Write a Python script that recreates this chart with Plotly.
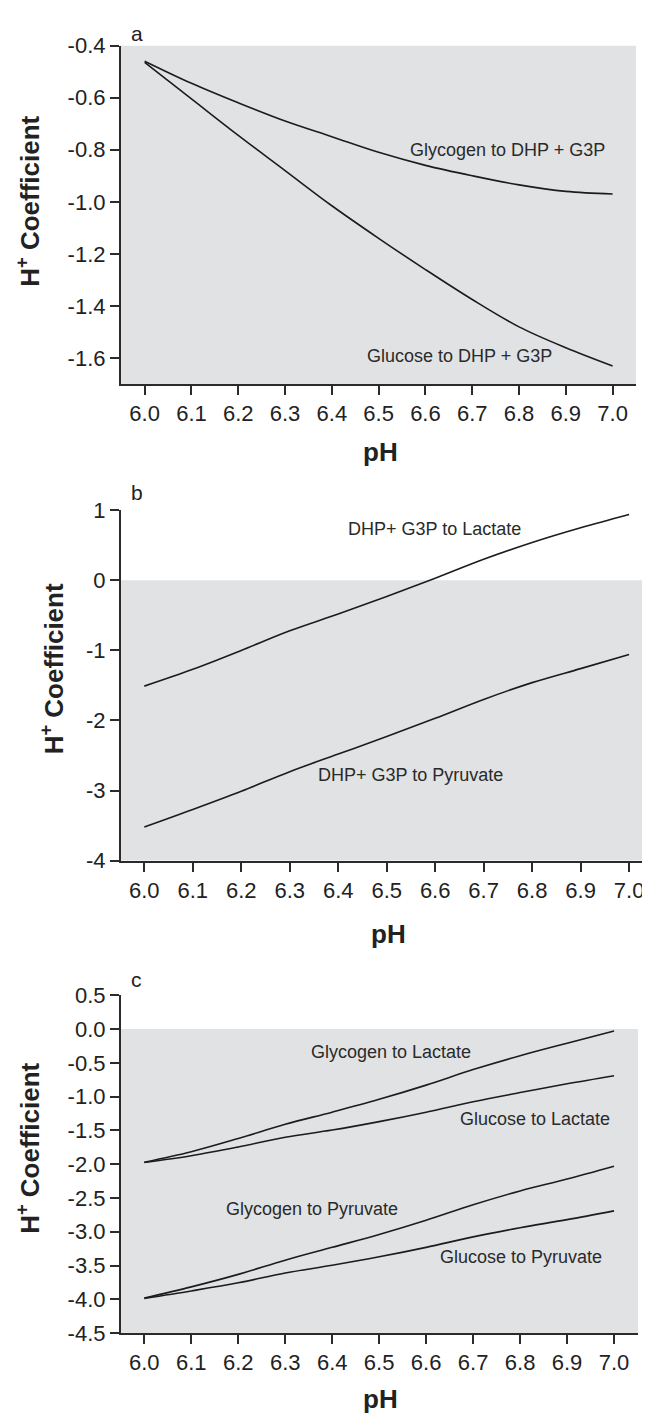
import plotly.graph_objects as go

# ---------------- data ----------------
ph = [6.0, 6.1, 6.2, 6.3, 6.4, 6.5, 6.6, 6.7, 6.8, 6.9, 7.0]

# panel a
glycogen_to_dhp_g3p = [-0.46, -0.545, -0.62, -0.69, -0.75, -0.81, -0.86, -0.90, -0.935, -0.96, -0.97]
glucose_to_dhp_g3p = [-0.465, -0.605, -0.745, -0.88, -1.015, -1.14, -1.26, -1.375, -1.48, -1.56, -1.63]

# panel b
dhp_g3p_to_lactate = [-1.51, -1.27, -1.00, -0.72, -0.48, -0.23, 0.03, 0.30, 0.54, 0.75, 0.94]
dhp_g3p_to_pyruvate = [-3.52, -3.27, -3.01, -2.73, -2.48, -2.23, -1.97, -1.70, -1.46, -1.26, -1.06]

# panel c
glycogen_to_lactate = [-1.97, -1.815, -1.62, -1.41, -1.23, -1.04, -0.83, -0.60, -0.395, -0.21, -0.03]
glucose_to_lactate = [-1.975, -1.875, -1.745, -1.60, -1.495, -1.37, -1.23, -1.075, -0.94, -0.81, -0.69]
glycogen_to_pyruvate = [-3.98, -3.815, -3.63, -3.42, -3.23, -3.04, -2.83, -2.60, -2.395, -2.22, -2.03]
glucose_to_pyruvate = [-3.985, -3.875, -3.755, -3.61, -3.495, -3.37, -3.23, -3.075, -2.94, -2.82, -2.69]

x_ticks = [6.0, 6.1, 6.2, 6.3, 6.4, 6.5, 6.6, 6.7, 6.8, 6.9, 7.0]
a_ticks = [-0.4, -0.6, -0.8, -1.0, -1.2, -1.4, -1.6]
b_ticks = [1, 0, -1, -2, -3, -4]
c_ticks = [0.5, 0.0, -0.5, -1.0, -1.5, -2.0, -2.5, -3.0, -3.5, -4.0, -4.5]

panel_letters = ["a", "b", "c"]
x_title = "pH"
y_title = "H<sup>+</sup> Coefficient"

# ---------------- styling ----------------
W, H = 650, 1421
FONT = "Liberation Sans, Arial, sans-serif"
LINE_COLOR = "#1c1c1c"
AXIS_COLOR = "#2b2b2b"
GRAY = "#e1e2e4"
TEXT = "#222222"


def px_x(p):
    return p / W


def px_y(p):
    return 1 - p / H


fig = go.Figure()

series = [
    (glycogen_to_dhp_g3p, "x", "y"),
    (glucose_to_dhp_g3p, "x", "y"),
    (dhp_g3p_to_lactate, "x2", "y2"),
    (dhp_g3p_to_pyruvate, "x2", "y2"),
    (glycogen_to_lactate, "x3", "y3"),
    (glucose_to_lactate, "x3", "y3"),
    (glycogen_to_pyruvate, "x3", "y3"),
    (glucose_to_pyruvate, "x3", "y3"),
]
for ys, xa, ya in series:
    fig.add_trace(go.Scatter(
        x=ph, y=ys, mode="lines", xaxis=xa, yaxis=ya, showlegend=False,
        line=dict(color=LINE_COLOR, width=1.6, shape="spline"),
        hoverinfo="skip",
    ))

common_axis = dict(
    showline=True, linecolor=AXIS_COLOR, linewidth=1.8,
    ticks="outside", ticklen=9, tickwidth=1.5, tickcolor=AXIS_COLOR,
    showgrid=False, zeroline=False, mirror=False,
    tickfont=dict(family=FONT, size=22, color=TEXT),
)


def xaxis(domain, rng, anchor):
    return dict(common_axis, domain=domain, range=rng, anchor=anchor,
                tickmode="array", tickvals=x_ticks,
                ticktext=[f"{v:.1f}" for v in x_ticks])


def yaxis(domain, rng, anchor, ticks, fmt):
    return dict(common_axis, domain=domain, range=rng, anchor=anchor,
                tickmode="array", tickvals=ticks,
                ticktext=[fmt.format(v) for v in ticks])


ranges = {
    "a": ([5.949, 7.050], [-1.7, -0.4]),
    "b": ([5.9515, 7.0555], [-4.0, 1.0]),
    "c": ([5.95, 7.051], [-4.5, 0.5]),
}

fig.update_layout(
    width=W, height=H,
    margin=dict(l=0, r=0, t=0, b=0),
    paper_bgcolor="white", plot_bgcolor="white",
    font=dict(family=FONT, color=TEXT, size=16),
    xaxis=xaxis([px_x(112.8), px_x(628)], ranges["a"][0], "y"),
    yaxis=yaxis([px_y(370.7), px_y(26)], ranges["a"][1], "x", a_ticks, "{:.1f}"),
    xaxis2=xaxis([px_x(112.8), px_x(648)], ranges["b"][0], "y2"),
    yaxis2=yaxis([px_y(855.7), px_y(499)], ranges["b"][1], "x2", b_ticks, "{:d}"),
    xaxis3=xaxis([px_x(112.8), px_x(630)], ranges["c"][0], "y3"),
    yaxis3=yaxis([px_y(1336.7), px_y(992.7)], ranges["c"][1], "x3", c_ticks, "{:.1f}"),
)

# gray background below zero
for key, xr, yr in [("a", "x", "y"), ("b", "x2", "y2"), ("c", "x3", "y3")]:
    y0, y1 = ranges[key][1]
    fig.add_shape(type="rect", xref=f"{xr} domain", yref=yr,
                  x0=0, x1=1, y0=y0, y1=min(0, y1),
                  fillcolor=GRAY, line=dict(width=0), layer="below")

annotations = []
# panel letters (top-anchored so none is cut at the edge)
for letter, (lx, ly) in zip(panel_letters, [(128.5, 0), (128.5, 467), (128.5, 963)]):
    annotations.append(dict(text=letter, x=px_x(lx), y=px_y(ly), xref="paper", yref="paper",
                            showarrow=False, xanchor="center", yanchor="top",
                            font=dict(family=FONT, size=21, color=TEXT)))
# x titles
for (tx, ty) in [(372, 440), (380, 930), (372, 1404)]:
    annotations.append(dict(text=x_title, x=px_x(tx), y=px_y(ty), xref="paper", yref="paper",
                            showarrow=False, xanchor="center", yanchor="middle",
                            font=dict(family=FONT, size=26, color=TEXT, weight="bold")))
# y titles
for (tx, ty) in [(21, 185), (44, 661), (21, 1149)]:
    annotations.append(dict(text=y_title, x=px_x(tx), y=px_y(ty), xref="paper", yref="paper",
                            showarrow=False, xanchor="center", yanchor="middle", textangle=-90,
                            font=dict(family=FONT, size=26, color=TEXT, weight="bold")))

# curve labels (data coordinates)
curve_labels = [
    ("Glycogen to DHP + G3P", 6.776, -0.80, "x", "y"),
    ("Glucose to DHP + G3P", 6.673, -1.593, "x", "y"),
    ("DHP+ G3P to Lactate", 6.599, 0.729, "x2", "y2"),
    ("DHP+ G3P to Pyruvate", 6.550, -2.777, "x2", "y2"),
    ("Glycogen to Lactate", 6.526, -0.345, "x3", "y3"),
    ("Glucose to Lactate", 6.831, -1.33, "x3", "y3"),
    ("Glycogen to Pyruvate", 6.358, -2.66, "x3", "y3"),
    ("Glucose to Pyruvate", 6.802, -3.38, "x3", "y3"),
]
for text, lx, ly, xr, yr in curve_labels:
    annotations.append(dict(text=text, x=lx, y=ly, xref=xr, yref=yr, showarrow=False,
                            xanchor="center", yanchor="middle",
                            font=dict(family=FONT, size=18, color="#2a2a2a")))

fig.update_layout(annotations=annotations)

fig.write_html("out.html")
